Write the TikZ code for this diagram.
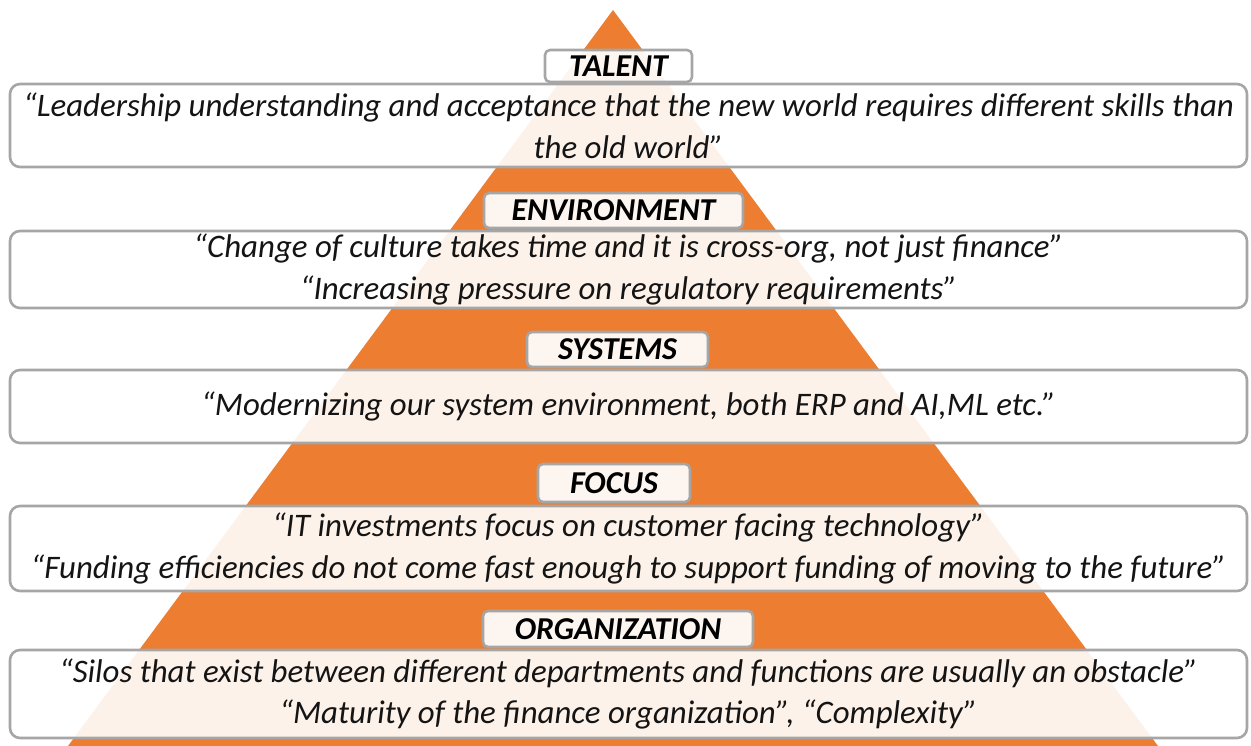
\documentclass[tikz,border=0pt]{standalone}
\usepackage{fontspec}
\setmainfont{Carlito}
\definecolor{pyramidorange}{RGB}{237,125,49}
\definecolor{boxgray}{RGB}{166,166,166}
\definecolor{quoteink}{RGB}{20,20,20}
\tikzset{
  quote box/.style={draw=boxgray,line width=2.6bp,rounded corners=10bp,fill=white,fill opacity=0.9,text opacity=1,
    text=quoteink,align=center,inner sep=0pt,minimum width=1237bp,
    font=\fontsize{33}{42}\selectfont\itshape},
  tag box/.style={draw=boxgray,line width=2.6bp,rounded corners=5bp,fill=white,fill opacity=0.93,text opacity=1,
    text=black,inner sep=0pt,font=\fontsize{32}{34}\selectfont\bfseries\itshape},
}
\begin{document}
\begin{tikzpicture}[line join=round]
\useasboundingbox (0bp,0bp) rectangle (1251bp,746bp);
%% pyramid behind the boxes
\coordinate (apex) at (613bp,736bp);
\coordinate (base_left) at (68bp,0bp);
\coordinate (base_right) at (1158bp,0bp);
\fill [pyramidorange] (base_left) -- (apex) -- (base_right) -- cycle;
%% quote boxes
\node (talent_box) at (628.5bp,620.5bp) [quote box,minimum height=83bp] {``Leadership understanding and acceptance that the new world requires different skills than\\the old world''};
  \node (env_box) at (628.5bp,476.5bp) [quote box,minimum height=77bp] {``Change of culture takes time and it is cross-org, not just finance''\\``Increasing pressure on regulatory requirements''};
  \node (sys_box) at (628.5bp,339.5bp) [quote box,minimum height=73bp] {``Modernizing our system environment, both ERP and AI,ML etc.''};
  \node (focus_box) at (628.5bp,197.5bp) [quote box,minimum height=85bp] {``IT investments focus on customer facing technology''\\``Funding efficiencies do not come fast enough to support funding of moving to the future''};
  \node (org_box) at (628.5bp,52bp) [quote box,minimum height=88bp] {``Silos that exist between different departments and functions are usually an obstacle''\\``Maturity of the finance organization'', ``Complexity''};
%% tags
\node (talent_tag) at (618.5bp,680bp) [tag box,minimum width=147bp,minimum height=32bp] {TALENT};
  \node (env_tag) at (613.5bp,535.5bp) [tag box,minimum width=259bp,minimum height=35bp] {ENVIRONMENT};
  \node (sys_tag) at (617.5bp,396.5bp) [tag box,minimum width=181bp,minimum height=35bp] {SYSTEMS};
  \node (focus_tag) at (614bp,263bp) [tag box,minimum width=152bp,minimum height=38bp] {FOCUS};
  \node (org_tag) at (618bp,117bp) [tag box,minimum width=270bp,minimum height=36bp] {ORGANIZATION};
%
\end{tikzpicture}
\end{document}
